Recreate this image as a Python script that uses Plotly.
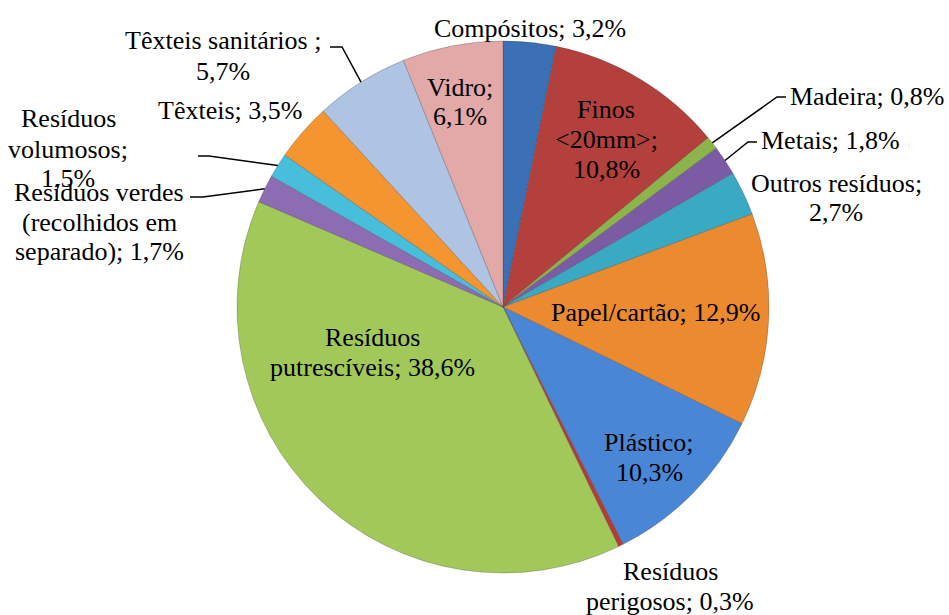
import math
import plotly.graph_objects as go

# ---- data -------------------------------------------------------------
categories = [
    "Compósitos", "Finos <20mm>", "Madeira", "Metais", "Outros resíduos",
    "Papel/cartão", "Plástico", "Resíduos perigosos", "Resíduos putrescíveis",
    "Resíduos verdes (recolhidos em separado)", "Resíduos volumosos",
    "Têxteis", "Têxteis sanitários", "Vidro",
]
shares = [3.2, 10.8, 0.8, 1.8, 2.7, 12.9, 10.3, 0.3, 38.6, 1.7, 1.5, 3.5, 5.7, 6.1]

# how each category name is broken over lines in its label
label_names = [
    "Compósitos", "Finos<br>&lt;20mm&gt;", "Madeira", "Metais", "Outros resíduos",
    "Papel/cartão", "Plástico", "Resíduos<br>perigosos", "Resíduos<br>putrescíveis",
    "Resíduos verdes<br>(recolhidos em<br>separado)", "Resíduos<br>volumosos",
    "Têxteis", "Têxteis sanitários ", "Vidro",
]
label_joins = ["; ", ";<br>", "; ", "; ", ";<br>", "; ", ";<br>", "; ", "; ",
               "; ", ";<br>", "; ", ";<br>", ";<br>"]

colors = [
    "#3B6FB6", "#B3403C", "#8DB44A", "#7B5BA3", "#39A9C4", "#EC8A2F", "#4A86D6",
    "#B83A35", "#A3C85A", "#8C6CB2", "#47BEDC", "#F4952F", "#AFC4E3", "#E2A9A8",
]

# ---- layout geometry (pixels) ----------------------------------------
W, H = 949, 615
CX, CY, R = 503, 307, 266
LINE_H = 30  # distance between label lines
SERIF = "Times New Roman"

# label placement: (x, y, xanchor)
label_pos = [
    (530, 29, "center"), (606, 139, "center"), (788, 96, "left"), (759, 140, "left"),
    (836, 198, "center"), (655, 312, "center"), (649, 457, "center"),
    (670, 586, "center"), (372, 352, "center"), (99, 222, "center"),
    (68, 149, "center"), (230, 111, "center"), (223, 56, "center"), (460, 102, "center"),
]

# leader lines: slice index -> list of elbow points from the slice edge to the label
leaders = {
    2: [(777, 97), (786, 97)],
    3: [(748, 142), (757, 142)],
    9: [(203, 197), (190, 197)],
    10: [(209, 156), (198, 156)],
    12: [(342, 47), (330, 47)],
}


def px(x):
    return x / W


def py(y):
    return 1 - y / H


def fmt(v):
    return f"{v:.1f}".replace(".", ",") + "%"


fig = go.Figure(go.Pie(
    labels=categories,
    values=shares,
    sort=False,
    direction="clockwise",
    rotation=0,
    textinfo="none",
    hoverinfo="label+percent",
    marker=dict(colors=colors, line=dict(color="rgba(60,60,60,0.35)", width=0.8)),
    domain=dict(x=[px(CX - R), px(CX + R)], y=[py(CY + R), py(CY - R)]),
    showlegend=False,
))

# each label line is its own annotation so the line spacing stays tight
for name, join, v, (x, y, anchor) in zip(label_names, label_joins, shares, label_pos):
    lines = f"{name}{join}{fmt(v)}".split("<br>")
    n = len(lines)
    for k, line in enumerate(lines):
        fig.add_annotation(
            x=px(x), y=py(y + (k - (n - 1) / 2) * LINE_H), xref="paper", yref="paper",
            text=line, showarrow=False,
            xanchor=anchor, yanchor="middle", align="center",
            font=dict(family=SERIF, size=26),
        )

total = sum(shares)
cum = 0.0
for i, v in enumerate(shares):
    mid = (cum + v / 2) / total * 2 * math.pi
    cum += v
    if i not in leaders:
        continue
    ex = CX + R * math.sin(mid)
    ey = CY - R * math.cos(mid)
    pts = [(ex, ey)] + leaders[i]
    path = "M " + " L ".join(f"{px(a):.5f},{py(b):.5f}" for a, b in pts)
    fig.add_shape(type="path", xref="paper", yref="paper", path=path,
                  line=dict(color="black", width=1.5))

fig.update_layout(
    template="none",
    width=W, height=H,
    margin=dict(l=0, r=0, t=0, b=0),
    paper_bgcolor="white", plot_bgcolor="white",
    font=dict(family=SERIF, size=26, color="black"),
)

fig.write_html("out.html")
